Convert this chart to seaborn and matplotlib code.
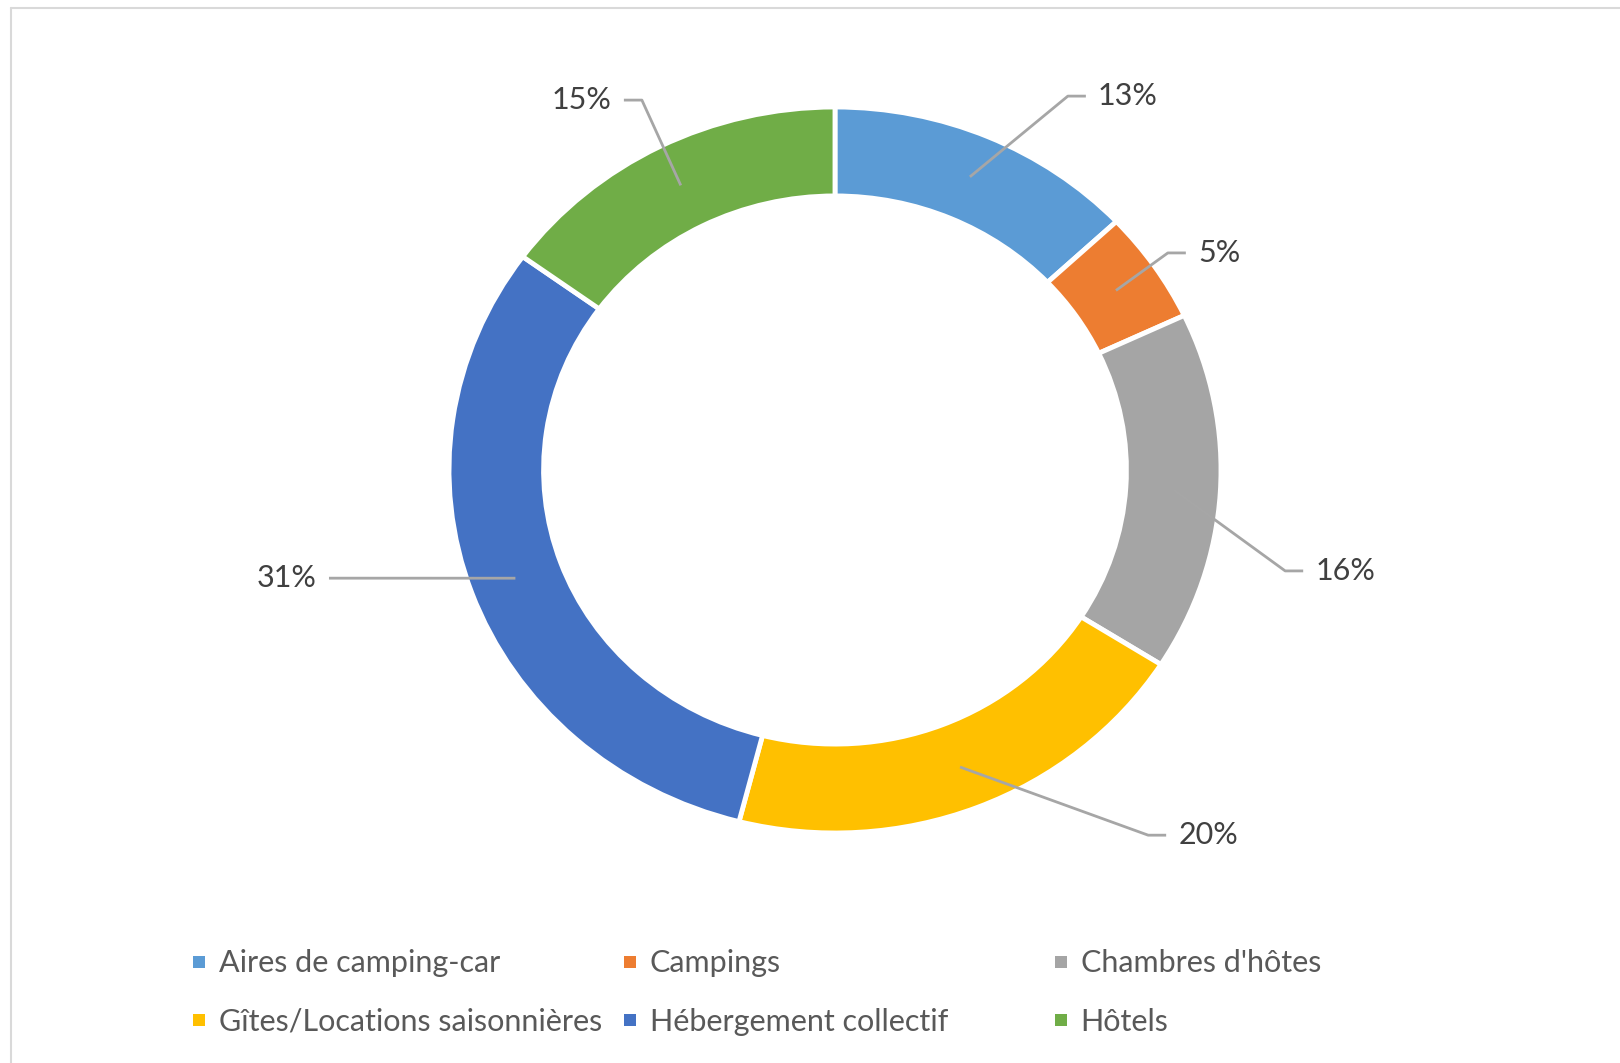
import numpy as np
import matplotlib.pyplot as plt
from matplotlib.lines import Line2D
import seaborn as sns

# ---------------------------------------------------------
# Data
# ---------------------------------------------------------
categories = [
    "Aires de camping-car",
    "Campings",
    "Chambres d'hôtes",
    "Gîtes/Locations saisonnières",
    "Hébergement collectif",
    "Hôtels",
]
shares = [13, 5, 16, 20, 31, 15]
pct_labels = ["13%", "5%", "16%", "20%", "31%", "15%"]
colors = ["#5B9BD5", "#ED7D31", "#A5A5A5", "#FFC000", "#4472C4", "#70AD47"]

# label placement (in ring-radius units) and text alignment
label_xy = [(0.681, 1.030), (0.940, 0.598), (1.244, -0.278),
            (0.889, -1.006), (-1.342, -0.298), (-0.578, 1.019)]
label_ha = ["left", "left", "left", "left", "right", "right"]

# ---------------------------------------------------------
# Style
# ---------------------------------------------------------
sns.set_theme(style="white")
plt.rcParams["font.family"] = ["Lato", "DejaVu Sans"]

W, H = 1620, 1063
fig = plt.figure(figsize=(W / 100, H / 100), dpi=100)

# donut is slightly wider than tall in the reference
cx, cy, rx, ry = 835, 470, 386, 363
ax = fig.add_axes([(cx - rx) / W, (H - cy - ry) / H, 2 * rx / W, 2 * ry / H])

wedges, _ = ax.pie(
    shares,
    colors=colors,
    startangle=90,
    counterclock=False,
    radius=1,
    wedgeprops=dict(width=0.245, edgecolor="white", linewidth=3.5),
)
for w in wedges:
    w.set_clip_on(False)
ax.set_aspect("auto")
ax.set_xlim(-1, 1)
ax.set_ylim(-1, 1)
ax.axis("off")

# ---------------------------------------------------------
# Data labels with leader lines
# ---------------------------------------------------------
gap, seg = 12 / rx, 18 / rx
cum = np.cumsum([0] + shares[:-1])
for i, v in enumerate(shares):
    theta = np.deg2rad(90 - (cum[i] + v / 2) / sum(shares) * 360)
    axx, ayy = 0.88 * np.cos(theta), 0.88 * np.sin(theta)
    tx, ty = label_xy[i]
    sign = 1 if label_ha[i] == "left" else -1
    end_x = tx - sign * gap
    elbow_x = end_x - sign * seg
    ax.plot([axx, elbow_x, end_x], [ayy, ty, ty], color="#A6A6A6",
            lw=2.0, clip_on=False, solid_capstyle="butt")
    ax.text(tx, ty, pct_labels[i], ha=label_ha[i], va="center",
            fontsize=22, color="#404040")

# ---------------------------------------------------------
# Legend: three columns, row-major order
# ---------------------------------------------------------
col_x = [199, 630, 1061]
row_mid = (963 + 1022) / 2
for c in range(3):
    idx = [c, c + 3]
    handles = [
        Line2D([], [], marker="s", linestyle="none", markersize=9,
               markerfacecolor=colors[i], markeredgewidth=0)
        for i in idx
    ]
    fig.legend(
        handles,
        [categories[i] for i in idx],
        loc="center left",
        bbox_to_anchor=((col_x[c] - 11) / W, 1 - row_mid / H),
        frameon=False,
        fontsize=22,
        labelcolor="#595959",
        handlelength=0.7,
        handletextpad=0.3,
        labelspacing=1.0,
        borderpad=0,
        borderaxespad=0,
    )

# light chart border (left and top edges visible)
border = dict(transform=fig.transFigure, color="#D9D9D9", lw=1.5)
fig.add_artist(Line2D([11 / W, 11 / W], [0, 1 - 8 / H], **border))
fig.add_artist(Line2D([11 / W, 1], [1 - 8 / H, 1 - 8 / H], **border))

fig.savefig("out.png", dpi=100)
